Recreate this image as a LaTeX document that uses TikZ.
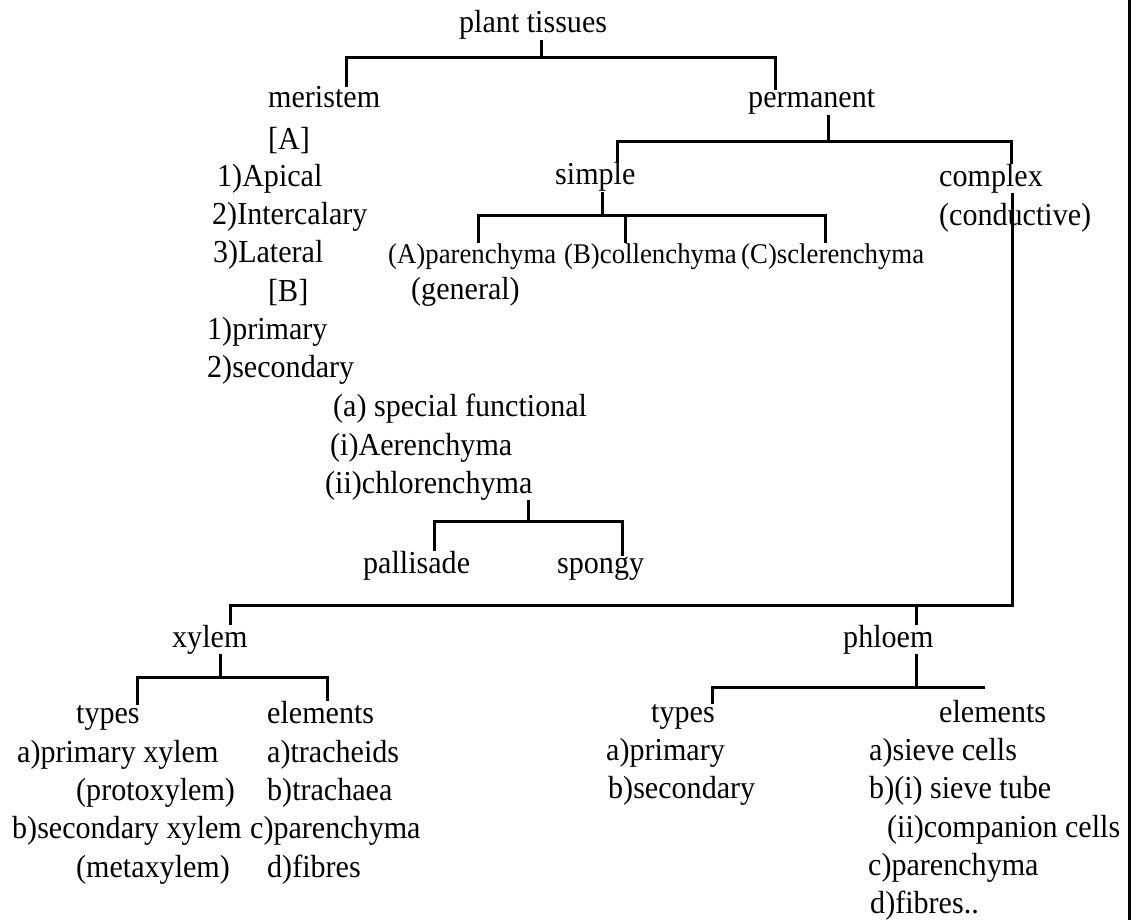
\documentclass[tikz,border=0pt]{standalone}
\usepackage{fontspec}
\setmainfont[FakeStretch=0.94]{Liberation Serif}

\begin{document}
\begin{tikzpicture}[x=1pt, y=-1pt,
    lbl/.style={anchor=base west, inner sep=0pt, font=\fontsize{32}{38}\selectfont},
    small/.style={lbl, font=\fontsize{28.5}{34}\selectfont},
    branch/.style={line width=3pt}]
  \useasboundingbox (0,0) rectangle (1137,920);
  % Nodes
  \node (tissues) [lbl] at (459, 33) {plant tissues};
  \node (meri) [lbl] at (268, 108) {meristem};
  \node (perm) [lbl] at (748, 108) {permanent};
  \node (bA) [lbl] at (268, 150) {[A]};
  \node (api) [lbl] at (217, 186) {1)Apical};
  \node (inter) [lbl] at (212, 224) {2)Intercalary};
  \node (lat) [lbl] at (213, 262) {3)Lateral};
  \node (bB) [lbl] at (268, 301) {[B]};
  \node (prim) [lbl] at (207, 339) {1)primary};
  \node (sec) [lbl] at (207, 377) {2)secondary};
  \node (spec) [lbl] at (333, 416) {(a) special functional};
  \node (aer) [lbl] at (330, 455) {(i)Aerenchyma};
  \node (chlo) [lbl] at (325, 493) {(ii)chlorenchyma};
  \node (pall) [lbl] at (363, 573) {pallisade};
  \node (spong) [lbl] at (557, 573) {spongy};
  \node (simp) [lbl] at (555, 185) {simple};
  \node (comp) [lbl] at (939, 186) {complex};
  \node (cond) [lbl] at (939, 225) {(conductive)};
  \node (par) [small] at (388, 263) {(A)parenchyma};
  \node (col) [small] at (564, 263) {(B)collenchyma};
  \node (scl) [small] at (741, 263) {(C)sclerenchyma};
  \node (gen) [lbl] at (411, 299) {(general)};
  % Xylem
  \node (xyl) [lbl] at (172, 647) {xylem};
  \node (xtyp) [lbl] at (76, 723) {types};
  \node (xel) [lbl] at (267, 723) {elements};
  \node (xa) [lbl] at (17, 762) {a)primary xylem};
  \node (xpro) [lbl] at (76, 800) {(protoxylem)};
  \node (xb) [lbl] at (12, 838) {b)secondary xylem};
  \node (xmeta) [lbl] at (76, 877) {(metaxylem)};
  \node (etr) [lbl] at (267, 762) {a)tracheids};
  \node (etrh) [lbl] at (267, 800) {b)trachaea};
  \node (epar) [lbl] at (250, 838) {c)parenchyma};
  \node (efib) [lbl] at (267, 877) {d)fibres};
  % Phloem
  \node (phl) [lbl] at (843, 647) {phloem};
  \node (ptyp) [lbl] at (651, 722) {types};
  \node (pel) [lbl] at (939, 722) {elements};
  \node (pa) [lbl] at (606, 760) {a)primary};
  \node (pb) [lbl] at (608, 798) {b)secondary};
  \node (ps) [lbl] at (869, 760) {a)sieve cells};
  \node (pst) [lbl] at (869, 798) {b)(i) sieve tube};
  \node (pcc) [lbl] at (887, 837) {(ii)companion cells};
  \node (ppar) [lbl] at (868, 875) {c)parenchyma};
  \node (pfib) [lbl] at (870, 913) {d)fibres..};
  % Junctions
  \coordinate (t0) at (541, 58);
  \coordinate (t1) at (346, 58);
  \coordinate (t2) at (775, 58);
  \coordinate (p0) at (828, 142);
  \coordinate (p1) at (617, 142);
  \coordinate (p2) at (1011, 142);
  \coordinate (s0) at (602, 215);
  \coordinate (s1) at (478, 215);
  \coordinate (s2) at (625, 215);
  \coordinate (s3) at (825, 215);
  \coordinate (c0) at (1012, 605);
  \coordinate (c1) at (230, 605);
  \coordinate (c2) at (916, 605);
  \coordinate (h0) at (528, 521);
  \coordinate (h1) at (434, 521);
  \coordinate (h2) at (622, 521);
  \coordinate (x0) at (220, 677);
  \coordinate (x1) at (137, 677);
  \coordinate (x2) at (327, 677);
  \coordinate (f0) at (916, 687);
  \coordinate (f1) at (712, 687);
  \coordinate (f2) at (985, 687);
  % Branches
  \draw[branch] (tissues.south -| t0) -- (t0);
  \draw[branch] (meri.north -| t1) -- (t1) -- (t2) -- (perm.north -| t2);
  \draw[branch] (perm.south -| p0) -- (p0);
  \draw[branch] (simp.north -| p1) -- (p1) -- (p2) -- (comp.north -| p2);
  \draw[branch] (simp.south -| s0) -- (s0);
  \draw[branch] (par.north -| s1) -- (s1) -- (s3) -- (scl.north -| s3);
  \draw[branch] (s2) -- (col.north -| s2);
  \draw[branch] (comp.south -| c0) -- (c0) -- (c1) -- (xyl.north -| c1);
  \draw[branch] (c2) -- (phl.north -| c2);
  \draw[branch] (chlo.south -| h0) -- (h0);
  \draw[branch] (pall.north -| h1) -- (h1) -- (h2) -- (spong.north -| h2);
  \draw[branch] (xyl.south -| x0) -- (x0);
  \draw[branch] (xtyp.north -| x1) -- (x1) -- (x2) -- (xel.north -| x2);
  \draw[branch] (phl.south -| f0) -- (f0);
  \draw[branch] (ptyp.north -| f1) -- (f1) -- (f2);
  % Border
  \draw[line width=2.5pt] (1129.5, 0) -- (1129.5, 920);
\end{tikzpicture}
\end{document}
